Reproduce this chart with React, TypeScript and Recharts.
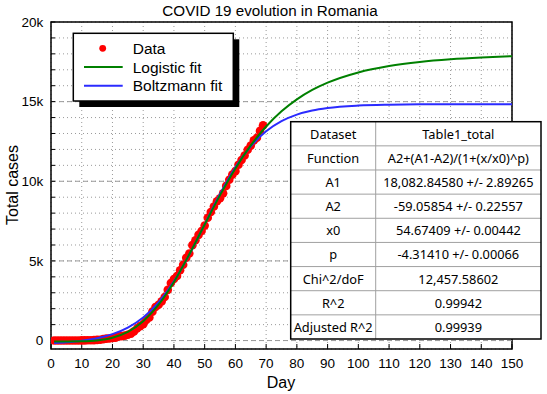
import React from 'react';
import {
  ComposedChart,
  Line,
  Scatter,
  XAxis,
  YAxis,
  CartesianGrid,
  ReferenceLine,
  ReferenceArea,
} from 'recharts';

// ---- data ----
const dataDays = [
  1, 2, 3, 4, 5, 6, 7, 8, 9, 10, 11, 12, 13, 14, 15, 16, 17, 18, 19, 20,
  21, 22, 23, 24, 25, 26, 27, 28, 29, 30, 31, 32, 33, 34, 35, 36, 37, 38, 39, 40,
  41, 42, 43, 44, 45, 46, 47, 48, 49, 50, 51, 52, 53, 54, 55, 56, 57, 58, 59, 60,
  61, 62, 63, 64, 65, 66, 67, 68, 69,
];
const dataCases = [
  1, 1, 3, 3, 3, 3, 4, 4, 6, 9, 9, 15, 15, 25, 45, 49, 89, 123, 131, 158,
  184, 260, 277, 308, 367, 433, 576, 762, 906, 1029, 1292, 1452, 1815, 2109, 2245, 2460, 2738, 3183, 3613, 3864,
  4057, 4417, 4761, 5202, 5467, 5990, 6300, 6633, 6879, 7216, 7707, 8067, 8418, 8746, 8936, 9242, 9710, 10096, 10417, 10635,
  11036, 11339, 11616, 11978, 12240, 12567, 12732, 13163, 13512,
];
const fitDays = [1, 5, 10, 15, 20, 25, 30, 35, 40, 45, 50, 55, 60, 65, 70, 75, 80, 85, 90, 100, 110, 120, 130, 140, 150];
const logisticFit = [-59, -58, -47, 9, 175, 541, 1209, 2252, 3682, 5414, 7286, 9130, 10808, 12250, 13438, 14390, 15142, 15732, 16191, 16835, 17236, 17493, 17661, 17774, 17853];
const boltzmannFit = [-154, -105, -10, 148, 405, 816, 1453, 2401, 3718, 5394, 7295, 9197, 10873, 12189, 13137, 13774, 14185, 14442, 14600, 14753, 14809, 14829, 14836, 14838, 14839];

const xTicks = [0, 10, 20, 30, 40, 50, 60, 70, 80, 90, 100, 110, 120, 130, 140, 150];
const yTicks = [0, 1000, 2000, 3000, 4000, 5000, 6000, 7000, 8000, 9000, 10000, 11000, 12000, 13000, 14000, 15000, 16000, 17000, 18000, 19000, 20000];
const yMajor = [0, 5000, 10000, 15000];
const xDomain = [0, 150];
const yDomain = [-530, 20000];

const title = 'COVID 19 evolution in Romania';
const xTitle = 'Day';
const yTitle = 'Total cases';
const legendItems = ['Data', 'Logistic fit', 'Boltzmann fit'];
const tableRows = [
  ['Dataset', 'Table1_total'],
  ['Function', 'A2+(A1-A2)/(1+(x/x0)^p)'],
  ['A1', '18,082.84580 +/- 2.89265'],
  ['A2', '-59.05854 +/- 0.22557'],
  ['x0', '54.67409 +/- 0.00442'],
  ['p', '-4.31410 +/- 0.00066'],
  ['Chi^2/doF', '12,457.58602'],
  ['R^2', '0.99942'],
  ['Adjusted R^2', '0.99939'],
];

const points = dataDays.map((d, i) => ({ day: d, cases: dataCases[i] }));
const fits = fitDays.map((d, i) => ({ day: d, logistic: logisticFit[i], boltzmann: boltzmannFit[i] }));

const FONT = '"Liberation Sans", Arial, sans-serif';
const GREEN = '#008000';
const BLUE = '#2b2bff';
const RED = '#ff0000';

const fmtY = (v: number) => (v % 5000 === 0 ? (v === 0 ? '0' : `${v / 1000}k`) : '');

const renderDot = (p: any) => <circle cx={p.cx} cy={p.cy} r={4.3} fill={RED} />;

export default function App() {
  // table geometry
  const tX = 290.7, tY = 121.7, tW = 250.3, tH = 217.3, tSplit = 375.7;
  const rowH = tH / tableRows.length;
  const legendY = [48.3, 67, 85.7];
  const extra: any = { zIndex: 700 };
  return (
    <div style={{ position: 'absolute', left: 0, top: 0, width: 547, height: 394, background: '#fff' }}>
      <ComposedChart
        width={547}
        height={394}
        margin={{ top: 22, right: 35, bottom: 0, left: 0 }}
        style={{ fontFamily: FONT }}
      >
        <CartesianGrid stroke="#9a9a9a" strokeDasharray="1 3" />
        {yMajor.map((v) => (
          <ReferenceLine key={v} y={v} stroke="#9a9a9a" strokeDasharray="5 3" />
        ))}
        <XAxis
          type="number"
          dataKey="day"
          domain={xDomain}
          ticks={xTicks}
          height={45}
          axisLine={false}
          tickLine={{ stroke: '#000' }}
          tickSize={-5}
          tickMargin={14}
          tick={{ fill: '#000', fontSize: 13.5, fontFamily: FONT }}
          interval={0}
          allowDataOverflow
        />
        <YAxis
          type="number"
          domain={yDomain}
          ticks={yTicks}
          width={51}
          axisLine={false}
          tickLine={{ stroke: '#000' }}
          tickSize={-4}
          tickMargin={11.7}
          tickFormatter={fmtY}
          tick={{ fill: '#000', fontSize: 13.5, fontFamily: FONT }}
          interval={0}
          allowDataOverflow
        />
        <Scatter data={points} dataKey="cases" isAnimationActive={false} shape={renderDot} />
        <Line {...extra} data={fits} dataKey="boltzmann" type="monotone" stroke={BLUE} strokeWidth={2} dot={false} activeDot={false} isAnimationActive={false} />
        <Line {...extra} data={fits} dataKey="logistic" type="monotone" stroke={GREEN} strokeWidth={2} dot={false} activeDot={false} isAnimationActive={false} />
        <ReferenceArea x1={xDomain[0]} x2={xDomain[1]} y1={yDomain[0]} y2={yDomain[1]} fill="none" stroke="#000" strokeWidth={1.5} />
      </ComposedChart>
      <svg
        width={547}
        height={394}
        style={{ position: 'absolute', left: 0, top: 0, pointerEvents: 'none', fontFamily: FONT }}
      >
        <text x={270} y={10} textAnchor="middle" dominantBaseline="central" fontSize={15.2} fill="#000">{title}</text>
        <text x={281} y={382} textAnchor="middle" dominantBaseline="central" fontSize={16} fill="#000">{xTitle}</text>
        <text x={12} y={185} textAnchor="middle" dominantBaseline="central" fontSize={16} fill="#000" transform="rotate(-90 12 185)">{yTitle}</text>

        {/* legend */}
        <rect x={79.3} y={39.3} width={160} height={67.7} fill="#000" />
        <rect x={73.3} y={33.3} width={160} height={67.7} fill="#fff" stroke="#000" strokeWidth={1.5} />
        <circle cx={102.7} cy={legendY[0]} r={3.4} fill={RED} />
        <line x1={84} x2={122.7} y1={legendY[1]} y2={legendY[1]} stroke={GREEN} strokeWidth={2} />
        <line x1={84} x2={122.7} y1={legendY[2]} y2={legendY[2]} stroke={BLUE} strokeWidth={2} />
        {legendItems.map((t, i) => (
          <text key={t} x={132.7} y={legendY[i]} dominantBaseline="central" fontSize={15.5} fill="#000">{t}</text>
        ))}

        {/* table */}
        <rect x={tX} y={tY} width={tW} height={tH} fill="#fff" />
        {tableRows.slice(1).map((_, i) => (
          <line key={i} x1={tX} x2={tX + tW} y1={tY + rowH * (i + 1)} y2={tY + rowH * (i + 1)} stroke="#a0a0a0" strokeWidth={1} />
        ))}
        <line x1={tSplit} x2={tSplit} y1={tY} y2={tY + tH} stroke="#a0a0a0" strokeWidth={1} />
        <rect x={tX} y={tY} width={tW} height={tH} fill="none" stroke="#000" strokeWidth={1.5} />
        {tableRows.map((r, i) => (
          <g key={r[0]} fontFamily='"Noto Sans", sans-serif' fontSize={12.8} fill="#000">
            <text x={(tX + tSplit) / 2} y={tY + rowH * (i + 0.5)} textAnchor="middle" dominantBaseline="central">{r[0]}</text>
            <text x={(tSplit + tX + tW) / 2} y={tY + rowH * (i + 0.5)} textAnchor="middle" dominantBaseline="central">{r[1]}</text>
          </g>
        ))}
      </svg>
    </div>
  );
}
